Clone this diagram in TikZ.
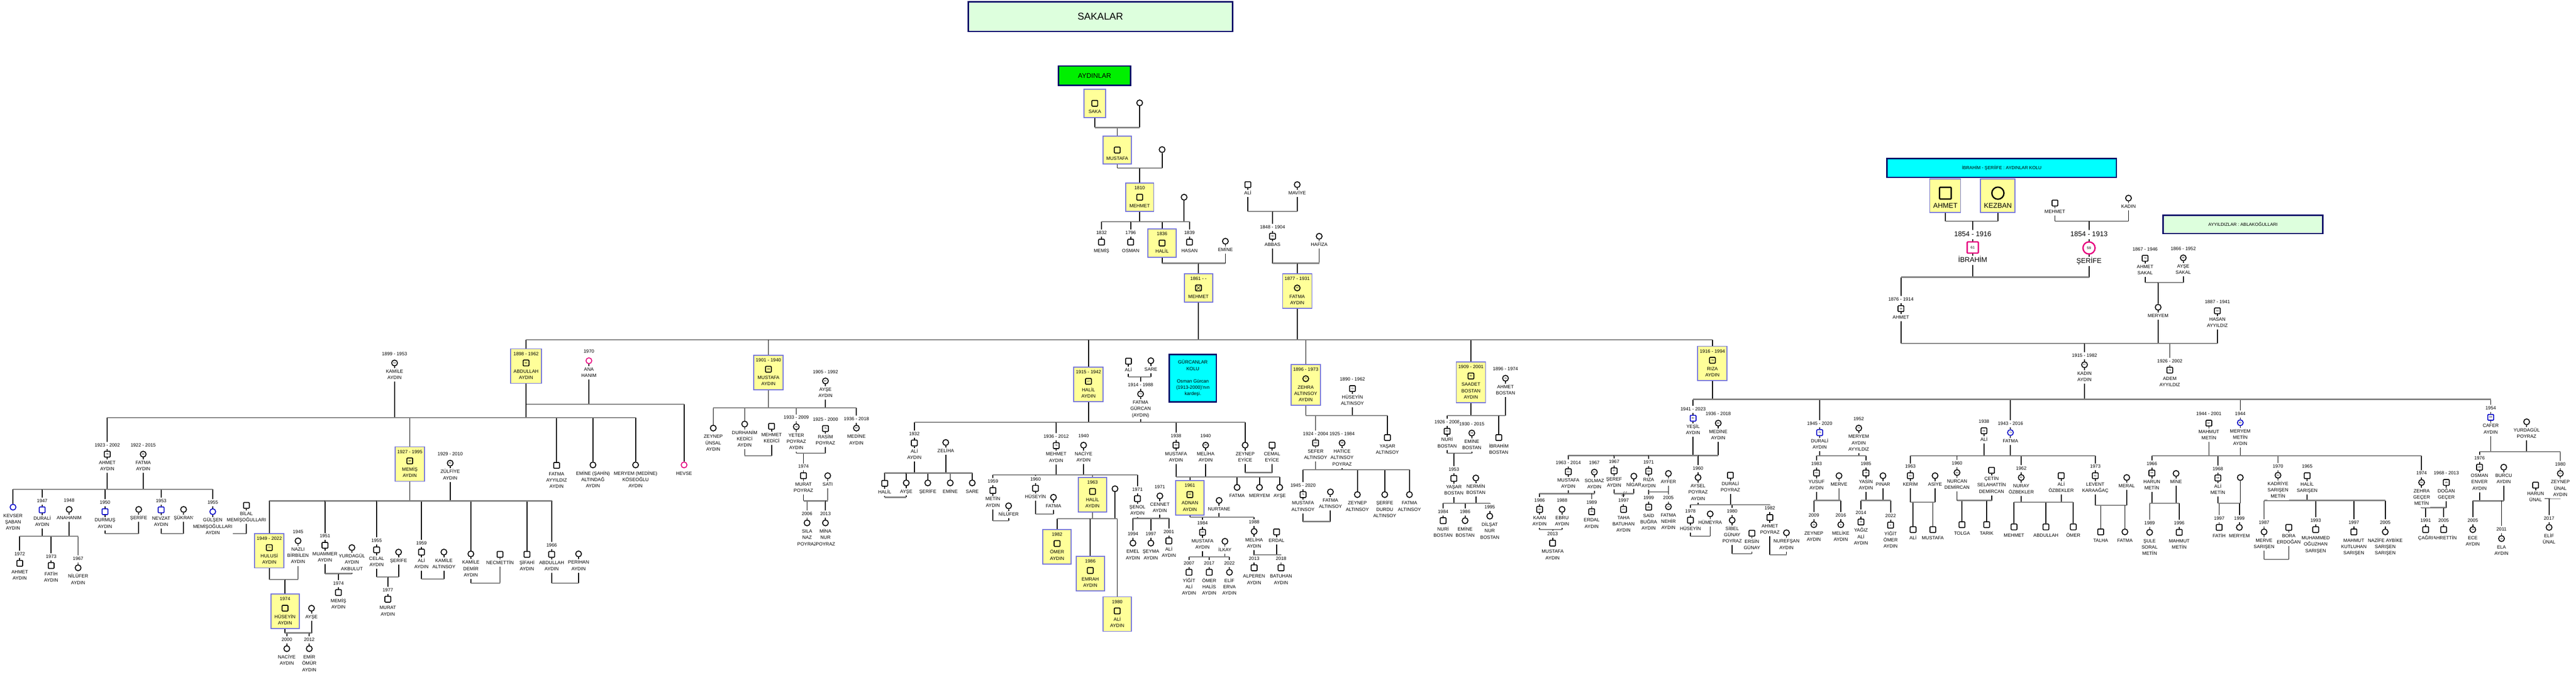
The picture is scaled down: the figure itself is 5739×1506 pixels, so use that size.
\documentclass[tikz,border=0pt]{standalone}
\usepackage{fontspec}
\setmainfont{Liberation Sans}
\usetikzlibrary{positioning,fit}

\definecolor{bargrey}{HTML}{808080}
\definecolor{hlyellow}{HTML}{FFFF99}
\definecolor{hlblue}{HTML}{7373DE}
\definecolor{symblue}{HTML}{0000C8}
\definecolor{sympink}{HTML}{E6007E}
\definecolor{boxnavy}{HTML}{000066}
\definecolor{titlegreen}{HTML}{DDFFDD}
\definecolor{aydgreen}{HTML}{00F000}
\definecolor{boxcyan}{HTML}{00FFFF}

\pgfdeclarelayer{edges}
\pgfdeclarelayer{boxes}
\pgfsetlayers{edges,boxes,main}

\newcommand\lblfont{\fontsize{10.5}{14}\selectfont}
\newcommand\agefont{\fontsize{5}{6}\selectfont}
\newcommand\bigfont{\fontsize{15.5}{19}\selectfont}

\newcommand\prsn[8][]{%
  \node[#3] (#2) at (#4,#5) {#6};
  \ifx\relax#7\relax
    \node[yr,#1,fill=none,above=4pt of #2] (#2-d) {\strut};
  \else
    \node[yr,#1,above=4pt of #2] (#2-d) {\strut#7};
  \fi
  \ifx\relax#8\relax
    \node[nm,#1,fill=none,below=4pt of #2] (#2-n) {\strut};
  \else
    \node[nm,#1,below=4pt of #2] (#2-n) {\strut#8\strut};
  \fi}

\newcommand\hilite[2][]{%
  \begin{pgfonlayer}{boxes}
    \node[hlbox,#1,fit=(#2-d)(#2)(#2-n)] (#2-box) {};
  \end{pgfonlayer}}

\newcommand\famline[4]{%
  \coordinate (#1) at (#2,#3);
  \begin{pgfonlayer}{edges}
    \foreach \p in {#4}{%
      \draw[kin] (\p) -- (\p |- #1);
      \draw[bar] (#1) -- (\p |- #1);}
  \end{pgfonlayer}}

\begin{document}
\begin{tikzpicture}[x=1pt,y=-1pt,
    m/.style={draw,line width=2pt,fill=white,minimum size=13pt,inner sep=0pt,rounded corners=1.5pt,font=\agefont},
    f/.style={draw,circle,line width=2pt,fill=white,minimum size=13pt,inner sep=0pt,font=\agefont},
    mb/.style={m,draw=symblue},
    fb/.style={f,draw=symblue},
    fp/.style={f,draw=sympink},
    mx/.style={m,path picture={\draw[line width=0.8pt]
        (path picture bounding box.north west) -- (path picture bounding box.south east)
        (path picture bounding box.north east) -- (path picture bounding box.south west);}},
    mB/.style={m,minimum size=26pt,line width=3pt},
    fB/.style={f,minimum size=27pt,line width=3pt},
    mP/.style={m,draw=sympink,minimum size=25pt,line width=3pt,font=\fontsize{8}{9}\selectfont},
    fP/.style={f,draw=sympink,minimum size=27pt,line width=3pt,font=\fontsize{8}{9}\selectfont},
    hs/.style={fill=hlyellow},
    yr/.style={fill=white,inner sep=1pt,font=\lblfont},
    nm/.style={yr,align=center},
    big/.style={font=\bigfont},
    hlt/.style={fill=none},
    kin/.style={line width=2pt},
    bar/.style={draw=bargrey,line width=2.5pt},
    hlbox/.style={draw=hlblue,fill=hlyellow,line width=2pt,inner sep=3.5pt,minimum width=63pt},
    titlebox/.style={draw=boxnavy,line width=3pt,align=center,inner sep=2pt}]

  \begin{pgfonlayer}{edges}
    \fill[white] (0,0) rectangle (5739,1506);
  \end{pgfonlayer}
  \useasboundingbox (0,0) rectangle (5739,1506);

  \node[titlebox,fill=titlegreen,minimum width=589pt,minimum height=66pt,font=\fontsize{22}{26}\selectfont] (sakalar) at (2451.5,37) {SAKALAR};
  \node[titlebox,fill=aydgreen,minimum width=161pt,minimum height=43pt,font=\fontsize{15}{18}\selectfont] (aydinlar) at (2438.5,168.5) {AYDINLAR};
  \node[titlebox,fill=boxcyan,minimum width=511pt,minimum height=42pt,font=\fontsize{10}{12}\selectfont] (aydinkolu) at (4459.5,374) {İBRAHİM - ŞERİİFE : AYDINLAR KOLU};
  \node[titlebox,fill=titlegreen,minimum width=356pt,minimum height=41pt,font=\fontsize{10}{12}\selectfont] (ayyildizlar) at (4997,499.5) {AYYILDIZLAR : ABLAKOĞULLARI};
  \node[titlebox,fill=boxcyan,minimum width=105pt,minimum height=106pt,font=\lblfont] (gurcanlar) at (2657.5,842) {GÜRCANLAR\\KOLU\\[14pt]Osman Gürcan\\(1913-2000)'nın\\kardeşi.};

  \prsn[hlt]{saka}{m,hs}{2439}{230}{}{}{SAKA}
  \prsn{sakaW}{f}{2539}{229}{}{}{}
  \prsn[hlt]{mustafa0}{m,hs}{2489}{334}{}{}{MUSTAFA}
  \prsn{mustafa0W}{f}{2589}{333}{}{}{}
  \prsn[hlt]{mehmet0}{m,hs}{2539}{439}{}{1810}{MEHMET}
  \prsn{mehmet0W}{f}{2638}{439}{}{}{}
  \prsn{memis0}{m}{2454}{539}{}{1832}{MEMİŞ}
  \prsn{osman0}{m}{2519}{539}{}{1796}{OSMAN}
  \prsn[hlt]{halil0}{m,hs}{2589}{541}{}{1836}{HALİL}
  \prsn{hasan0}{m}{2650}{539}{}{1839}{HASAN}
  \prsn{emine0}{f}{2730}{537}{}{}{EMİNE}
  \prsn[hlt]{mehmet1}{mx,hs}{2670}{641}{}{1861 - -}{MEHMET}
  \prsn{ali0}{m}{2780}{411}{}{}{ALİ}
  \prsn{maviye}{f}{2890}{411}{}{}{MAVİYE}
  \prsn{abbas}{m}{2835}{526}{56}{1848 - 1904}{ABBAS}
  \prsn{hafiza}{f}{2939}{526}{}{}{HAFİZA}
  \prsn[hlt]{fatma0}{f,hs}{2890}{641}{53}{1877 - 1931}{FATMA\\AYDIN}

  \famline{c1}{2439}{284}{saka,sakaW,mustafa0}
  \famline{c2}{2489}{374}{mustafa0,mustafa0W,mehmet0}
  \famline{c3}{2539}{494}{mehmet0,mehmet0W,memis0,osman0,halil0,hasan0}
  \famline{c4}{2589}{586}{halil0,emine0,mehmet1}
  \famline{c5}{2780}{471}{ali0,maviye,abbas}
  \famline{c6}{2835}{586}{abbas,hafiza,fatma0}

  \prsn[hlt]{abdullah1}{m,hs}{1172}{808}{64}{1898 - 1962}{ABDULLAH\\AYDIN}
  \prsn{kamile1}{f}{879}{808}{54}{1899 - 1953}{KAMİLE\\AYDIN}
  \prsn{anahanim1}{fp}{1312}{803}{}{1970}{ANA\\HANIM}
  \prsn{hevse}{fp}{1524}{1035}{}{}{HEVSE}
  \prsn{ahmet2}{m}{239}{1011}{79}{1923 - 2002}{AHMET\\AYDIN}
  \prsn{fatma2w}{f}{319}{1011}{93}{1922 - 2015}{FATMA\\AYDIN}
  \prsn[hlt]{memis2}{m,hs}{913}{1026}{68}{1927 - 1995}{MEMİŞ\\AYDIN}
  \prsn{zulfiye}{f}{1003}{1031}{81}{1929 - 2010}{ZÜLFİYE\\AYDIN}
  \prsn{fatma2}{m}{1240}{1036}{}{}{FATMA\\AYYILDIZ\\AYDIN}
  \prsn{emine2}{f}{1321}{1035}{}{}{EMİNE (ŞAHİN)\\ALTINDAĞ\\AYDIN}
  \prsn{meryem2}{f}{1416}{1035}{}{}{MERYEM (MEDİNE)\\KÖSEOĞLU\\AYDIN}

  \famline{c8}{1172}{900}{abdullah1,anahanim1,hevse}
  \famline{c9}{1172}{930}{abdullah1,kamile1,ahmet2,memis2,fatma2,emine2,meryem2}

  \prsn{kevser}{fb}{29}{1129}{}{}{KEVSER\\ŞABAN\\AYDIN}
  \prsn{durali3}{mb}{94}{1135}{}{1947}{DURALİ\\AYDIN}
  \prsn{anahanim3}{f}{154}{1134}{}{1948}{ANAHANIM}
  \prsn{ahmet4}{m}{44}{1254}{}{1972}{AHMET\\AYDIN}
  \prsn{fatih4}{m}{114}{1259}{}{1973}{FATİH\\AYDIN}
  \prsn{nilufer4}{f}{174}{1264}{}{1967}{NİLÜFER\\AYDIN}
  \prsn{durmus3}{mb}{234}{1139}{}{1950}{DURMUŞ\\AYDIN}
  \prsn{serife3}{f}{309}{1134}{}{}{ŞERİFE}
  \prsn{nevzat3}{mb}{359}{1135}{}{1953}{NEVZAT\\AYDIN}
  \prsn{sukran3}{f}{409}{1134}{}{}{ŞÜKRAN}
  \prsn{gulsen3}{fb}{474}{1139}{}{1955}{GÜLŞEN\\MEMİŞOĞULLARI\\AYDIN}
  \prsn{bilal3}{m}{549}{1125}{}{}{BİLAL\\MEMİŞOĞULLARI}

  \famline{c10}{239}{1089}{ahmet2,fatma2w,kevser,durali3,durmus3,nevzat3,gulsen3}
  \famline{c11}{94}{1194}{durali3,anahanim3,ahmet4,fatih4,nilufer4}
  \famline{c12}{234}{1188}{durmus3,serife3}
  \famline{c13}{359}{1188}{nevzat3,sukran3}
  \famline{c14}{549}{1188}{gulsen3,bilal3}

  \prsn[hlt]{hulusi}{m,hs}{600}{1219}{73}{1949 - 2022}{HULUSİ\\AYDIN}
  \prsn{nazli}{f}{664}{1204}{}{1945}{NAZLI\\BİRBİLEN\\AYDIN}
  \prsn[hlt]{huseyin6}{m,hs}{635}{1354}{}{1974}{HÜSEYİN\\AYDIN}
  \prsn{ayse6}{f}{694}{1354}{}{}{AYŞE}
  \prsn{naciye7}{f}{639}{1444}{}{2000}{NACİYE\\AYDIN}
  \prsn{emir7}{f}{689}{1444}{}{2012}{EMİR\\ÖMÜR\\AYDIN}
  \prsn{muammer}{m}{724}{1214}{}{1951}{MUAMMER\\AYDIN}
  \prsn{yurdagul5}{f}{784}{1219}{}{}{YURDAGÜL\\AYDIN\\AKBULUT}
  \prsn{memis6}{m}{754}{1319}{}{1974}{MEMİŞ\\AYDIN}
  \prsn{celal}{m}{839}{1224}{}{1955}{CELAL\\AYDIN}
  \prsn{serife5}{f}{888}{1229}{}{}{ŞERİFE}
  \prsn{murat6}{m}{864}{1334}{}{1977}{MURAT\\AYDIN}
  \prsn{ali5}{m}{939}{1229}{}{1959}{ALİ\\AYDIN}
  \prsn{kamile5a}{f}{989}{1229}{}{}{KAMİLE\\ALTINSOY}
  \prsn{kamile5}{f}{1049}{1233}{}{}{KAMİLE\\DEMİR\\AYDIN}
  \prsn{necmettin}{m}{1114}{1234}{}{}{NECMETTİN}
  \prsn{sifahi}{m}{1174}{1234}{}{}{ŞİFAHİ\\AYDIN}
  \prsn{abdullah5}{m}{1229}{1234}{}{1966}{ABDULLAH\\AYDIN}
  \prsn{perihan}{f}{1289}{1233}{}{}{PERİHAN\\AYDIN}

  \famline{c15}{913}{1115}{memis2,zulfiye,hulusi,muammer,celal,ali5,kamile5,sifahi,abdullah5}
  \famline{c16}{600}{1290}{hulusi,nazli,huseyin6}
  \famline{c17}{635}{1409}{huseyin6,ayse6,naciye7,emir7}
  \famline{c18}{724}{1277}{muammer,yurdagul5,memis6}
  \famline{c19}{839}{1284}{celal,serife5,murat6}
  \famline{c20}{939}{1289}{ali5,kamile5a}
  \famline{c21}{1049}{1298}{kamile5,necmettin}
  \famline{c22}{1229}{1298}{abdullah5,perihan}

  \prsn[hlt]{mustafa1}{m,hs}{1712}{822}{39}{1901 - 1940}{MUSTAFA\\AYDIN}
  \prsn{ayse1}{f}{1839}{848}{87}{1905 - 1992}{AYŞE\\AYDIN}
  \prsn{zeynep2}{f}{1589}{953}{}{}{ZEYNEP\\ÜNSAL\\AYDIN}
  \prsn{durhanim}{f}{1659}{944}{}{}{DURHANİM\\KEDİCİ\\AYDIN}
  \prsn{mehmetk}{m}{1719}{949}{}{}{MEHMET\\KEDİCİ}
  \prsn{yeter}{f}{1774}{950}{76}{1933 - 2009}{YETER\\POYRAZ\\AYDIN}
  \prsn{rasim}{m}{1839}{954}{75}{1925 - 2000}{RASİM\\POYRAZ}
  \prsn{medine2}{f}{1908}{953}{82}{1936 - 2018}{MEDİNE\\AYDIN}
  \prsn{murat3}{m}{1790}{1059}{}{1974}{MURAT\\POYRAZ}
  \prsn{sati}{f}{1844}{1059}{}{}{SATI}
  \prsn{sila}{f}{1798}{1164}{}{2006}{SILA\\NAZ\\POYRAZ}
  \prsn{mina}{f}{1839}{1164}{}{2013}{MİNA\\NUR\\POYRAZ}

  \famline{c23}{1712}{908}{mustafa1,ayse1,zeynep2,durhanim,yeter,medine2}
  \famline{c24}{1659}{1015}{durhanim,mehmetk}
  \famline{c25}{1774}{1009}{yeter,rasim,murat3}
  \famline{c26}{1790}{1115}{murat3,sati,sila,mina}

  \prsn[hlt]{halil1}{m,hs}{2425}{849}{27}{1915 - 1942}{HALİL\\AYDIN}
  \prsn{aliG}{m}{2514}{804}{}{}{ALİ}
  \prsn{sareG}{f}{2564}{803}{}{}{SARE}
  \prsn{fatmaG}{f}{2541}{877}{74}{1914 - 1988}{FATMA\\GÜRCAN\\(AYDIN)}

  \famline{c27}{2514}{839}{aliG,sareG,fatmaG}

  \prsn{aliH}{m}{2037}{986}{}{1932}{ALİ\\AYDIN}
  \prsn{zeliha}{f}{2107}{985}{}{}{ZELİHA}
  \prsn{halilZ}{m}{1971}{1076}{}{}{HALİL}
  \prsn{ayseZ}{f}{2019}{1075}{}{}{AYŞE}
  \prsn{serifeZ}{f}{2067}{1075}{}{}{ŞERİFE}
  \prsn{emineZ}{f}{2117}{1075}{}{}{EMİNE}
  \prsn{sareZ}{f}{2166}{1075}{}{}{SARE}
  \prsn{mehmetH}{m}{2353}{992}{78}{1936 - 2012}{MEHMET\\AYDIN}
  \prsn{naciyeH}{f}{2414}{991}{}{1940}{NACİYE\\AYDIN}
  \prsn{metin}{m}{2212}{1092}{}{1959}{METİN\\AYDIN}
  \prsn{niluferH}{f}{2247}{1126}{}{}{NİLÜFER}
  \prsn{huseyinH}{m}{2307}{1087}{}{1960}{HÜSEYİN}
  \prsn{fatmaH}{f}{2347}{1107}{}{}{FATMA}
  \prsn[hlt]{halilH}{m,hs}{2434}{1094}{}{1963}{HALİL\\AYDIN}
  \prsn{halilHw}{f}{2484}{1088}{}{}{}
  \prsn[hlt]{omer}{m,hs}{2355}{1210}{}{1982}{ÖMER\\AYDIN}
  \prsn[hlt]{emrah}{m,hs}{2429}{1270}{}{1986}{EMRAH\\AYDIN}
  \prsn[hlt]{aliHH}{m,hs}{2489}{1360}{}{1980}{ALİ\\AYDIN}
  \prsn{senol}{m}{2534}{1110}{}{1971}{ŞENOL\\AYDIN}
  \prsn{cennet}{f}{2584}{1104}{}{1971}{CENNET\\AYDIN}
  \prsn{emel}{f}{2524}{1209}{}{1994}{EMEL\\AYDIN}
  \prsn{seyma}{f}{2564}{1209}{}{1997}{ŞEYMA\\AYDIN}
  \prsn{aliS}{m}{2604}{1204}{}{2001}{ALİ\\AYDIN}
  \prsn{mustafaH}{m}{2620}{991}{86}{1938}{MUSTAFA\\AYDIN}
  \prsn{melihaH}{f}{2686}{991}{84}{1940}{MELİHA\\AYDIN}
  \prsn[hlt]{adnan}{m,hs}{2651}{1101}{63}{1961}{ADNAN\\AYDIN}
  \prsn{nurtane}{f}{2716}{1114}{}{}{NURTANE}
  \prsn{mustafaA}{m}{2679}{1185}{40}{1984}{MUSTAFA\\AYDIN}
  \prsn{ilkay}{f}{2729}{1205}{}{}{İLKAY}
  \prsn{yigit}{m}{2649}{1274}{}{2007}{YİĞİT\\ALİ\\AYDIN}
  \prsn{omerH}{m}{2694}{1274}{}{2017}{ÖMER\\HALİS\\AYDIN}
  \prsn{elif}{f}{2739}{1274}{}{2022}{ELİF\\ERVA\\AYDIN}
  \prsn{melihaA}{f}{2794}{1183}{}{1988}{MELİHA\\AYDIN}
  \prsn{erdal}{m}{2844}{1184}{}{}{ERDAL}
  \prsn{alperen}{m}{2794}{1264}{}{2013}{ALPEREN\\AYDIN}
  \prsn{batuhan}{m}{2854}{1264}{}{2018}{BATUHAN\\AYDIN}
  \prsn{fatmaM}{f}{2756}{1085}{}{}{FATMA}
  \prsn{meryemM}{f}{2806}{1085}{}{}{MERYEM}
  \prsn{ayseM}{f}{2851}{1085}{}{}{AYŞE}
  \prsn{zeynepE}{f}{2774}{991}{}{}{ZEYNEP\\EYİCE}
  \prsn{cemal}{m}{2834}{991}{}{}{CEMAL\\EYİCE}

  \famline{c28}{2425}{940}{halil1,fatmaG,aliH,mehmetH,mustafaH,zeynepE}
  \famline{c29}{2037}{1053}{aliH,zeliha,halilZ,ayseZ,serifeZ,emineZ,sareZ}
  \famline{c30}{1971}{1107}{halilZ,ayseZ}
  \famline{c31}{2353}{1057}{mehmetH,naciyeH,metin,huseyinH,halilH,senol}
  \famline{c32}{2212}{1159}{metin,niluferH}
  \famline{c33}{2307}{1144}{huseyinH,fatmaH}
  \famline{c34}{2434}{1155}{halilH,halilHw,omer,emrah,aliHH}
  \famline{c35}{2534}{1154}{senol,cennet,emel,seyma,aliS}
  \famline{c36}{2620}{1062}{mustafaH,melihaH,adnan,fatmaM,meryemM,ayseM}
  \famline{c37}{2651}{1151}{adnan,nurtane,mustafaA,melihaA}
  \famline{c38}{2679}{1240}{mustafaA,ilkay,yigit,omerH,elif}
  \famline{c39}{2794}{1235}{melihaA,erdal,alperen,batuhan}
  \famline{c40}{2774}{1052}{zeynepE,cemal}

  \prsn[hlt]{zehra1}{f,hs}{2909}{843}{77}{1896 - 1973}{ZEHRA\\ALTINSOY\\AYDIN}
  \prsn{huseyinA}{m}{3013}{865}{72}{1890 - 1962}{HÜSEYİN\\ALTINSOY}
  \prsn{sefer}{m}{2931}{986}{80}{1924 - 2004}{SEFER\\ALTINSOY}
  \prsn{hatice}{f}{2990}{986}{59}{1925 - 1984}{HATİCE\\ALTINSOY\\POYRAZ}
  \prsn{yasarA}{m}{3091}{974}{}{}{YAŞAR\\ALTINSOY}
  \prsn{mustafaS}{m}{2903}{1101}{75}{1945 - 2020}{MUSTAFA\\ALTINSOY}
  \prsn{fatmaSw}{f}{2964}{1095}{}{}{FATMA\\ALTINSOY}
  \prsn{zeynepS}{f}{3024}{1101}{}{}{ZEYNEP\\ALTINSOY}
  \prsn{serifeS}{f}{3085}{1101}{}{}{ŞERİFE\\DURDU\\ALTINSOY}
  \prsn{fatmaS}{f}{3140}{1101}{}{}{FATMA\\ALTINSOY}

  \famline{c41}{2909}{925}{zehra1,huseyinA,sefer,yasarA}
  \famline{c42}{2931}{1046}{sefer,hatice,mustafaS,zeynepS,serifeS,fatmaS}
  \famline{c43}{2903}{1161}{mustafaS,fatmaSw}

  \prsn[hlt]{saadet1}{m,hs}{3277}{837}{92}{1909 - 2001}{SAADET\\BOSTAN\\AYDIN}
  \prsn{ahmetB}{f}{3354}{842}{78}{1896 - 1974}{AHMET\\BOSTAN}
  \prsn{nuriB}{m}{3224}{960}{82}{1926 - 2008}{NURİ\\BOSTAN}
  \prsn{emineB}{f}{3279}{964}{85}{1930 - 2015}{EMİNE\\BOSTAN}
  \prsn{ibrahimB}{m}{3339}{974}{}{}{İBRAHİM\\BOSTAN}
  \prsn{yasarB}{m}{3239}{1065}{}{1953}{YAŞAR\\BOSTAN}
  \prsn{nermin}{f}{3288}{1064}{}{}{NERMİN\\BOSTAN}
  \prsn{nuriB2}{m}{3215}{1159}{}{1984}{NURİ\\BOSTAN}
  \prsn{emineB2}{f}{3264}{1159}{}{1986}{EMİNE\\BOSTAN}
  \prsn{dilsat}{f}{3319}{1149}{}{1995}{DİLŞAT\\NUR\\BOSTAN}

  \famline{c44}{3277}{925}{saadet1,ahmetB,nuriB,ibrahimB}
  \famline{c45}{3224}{1009}{nuriB,emineB,yasarB}
  \famline{c46}{3239}{1120}{yasarB,nermin,nuriB2,emineB2,dilsat}

  \prsn[hlt]{riza1}{m,hs}{3815}{802}{78}{1916 - 1994}{RIZA\\AYDIN}
  \prsn{yesil}{mb}{3772}{931}{82}{1941 - 2023}{YEŞİL\\AYDIN}
  \prsn{medine8}{f}{3828}{942}{82}{1936 - 2018}{MEDİNE\\AYDIN}
  \prsn{mustafaY}{m}{3494}{1050}{51}{1963 - 2014}{MUSTAFA\\AYDIN}
  \prsn{solmaz}{f}{3552}{1051}{57}{1967}{SOLMAZ\\AYDIN}
  \prsn{kaan}{m}{3430}{1134}{38}{1986}{KAAN\\AYDIN}
  \prsn{ebru}{f}{3480}{1134}{}{1988}{EBRU\\AYDIN}
  \prsn{mustafaK}{m}{3459}{1209}{}{2013}{MUSTAFA\\AYDIN}
  \prsn{erdalY}{m}{3546}{1139}{35}{1989}{ERDAL\\AYDIN}
  \prsn{seref}{m}{3596}{1048}{57}{1967}{ŞEREF\\AYDIN}
  \prsn{nigar}{f}{3640}{1060}{}{}{NİGAR}
  \prsn{taha}{m}{3617}{1134}{27}{1997}{TAHA\\BATUHAN\\AYDIN}
  \prsn{rizaY}{m}{3673}{1049}{53}{1971}{RIZA\\AYDIN}
  \prsn{ayfer}{f}{3717}{1054}{}{}{AYFER}
  \prsn{said}{m}{3673}{1129}{25}{1999}{SAİD\\BUĞRA\\AYDIN}
  \prsn{fatmaN}{f}{3717}{1128}{19}{2005}{FATMA\\NEHİR\\AYDIN}
  \prsn{aysel}{f}{3783}{1063}{}{1960}{AYSEL\\POYRAZ\\AYDIN}
  \prsn{duraliP}{m}{3855}{1058}{}{}{DURALİ\\POYRAZ}
  \prsn{huseyinP}{m}{3766}{1158}{}{1978}{HÜSEYİN}
  \prsn{humeyra}{f}{3810}{1144}{}{}{HÜMEYRA}
  \prsn{sibel}{f}{3859}{1158}{}{1980}{SİBEL\\GÜNAY\\POYRAZ}
  \prsn{ersin}{m}{3903}{1187}{}{}{ERSİN\\GÜNAY}
  \prsn{ahmetP}{m}{3943}{1152}{}{1982}{AHMET\\POYRAZ}
  \prsn{nurefsan}{f}{3980}{1186}{}{}{NUREFŞAN\\AYDIN}

  \famline{c48}{3772}{1014}{yesil,medine8,mustafaY,seref,rizaY,aysel}
  \famline{c49}{3494}{1099}{mustafaY,solmaz,kaan,erdalY}
  \famline{c50}{3430}{1179}{kaan,ebru,mustafaK}
  \famline{c51}{3596}{1099}{seref,nigar,taha}
  \famline{c52}{3673}{1095}{rizaY,ayfer,said,fatmaN}
  \famline{c53}{3783}{1124}{aysel,duraliP,huseyinP,sibel,ahmetP}
  \famline{c54}{3766}{1194}{huseyinP,humeyra}
  \famline{c55}{3859}{1233}{sibel,ersin}
  \famline{c56}{3943}{1235}{ahmetP,nurefsan}
  \coordinate (divorce) at (3619,1099);
  \begin{pgfonlayer}{edges}
    \draw[bar,line width=1.5pt] ([shift={(-6pt,-5pt)}]divorce) -- ([shift={(0pt,5pt)}]divorce)
                                ([shift={(-1pt,-5pt)}]divorce) -- ([shift={(5pt,5pt)}]divorce);
  \end{pgfonlayer}

  \prsn{durali8}{mb}{4054}{963}{75}{1945 - 2020}{DURALİ\\AYDIN}
  \prsn{meryem8w}{f}{4141}{953}{72}{1952}{MERYEM\\AYDIN\\AYYILDIZ}
  \prsn{yusuf}{m}{4047}{1053}{41}{1983}{YUSUF\\AYDIN}
  \prsn{merve}{f}{4097}{1059}{}{}{MERVE}
  \prsn{zeynepY}{f}{4041}{1168}{15}{2009}{ZEYNEP\\AYDIN}
  \prsn{melike}{f}{4101}{1168}{8}{2016}{MELİKE\\AYDIN}
  \prsn{yasin}{m}{4157}{1053}{39}{1985}{YASİN\\AYDIN}
  \prsn{pinar}{f}{4195}{1059}{}{}{PINAR}
  \prsn{yagiz}{m}{4146}{1162}{10}{2014}{YAĞIZ\\ALİ\\AYDIN}
  \prsn{yigitO}{m}{4212}{1169}{2}{2022}{YİĞİT\\ÖMER\\AYDIN}

  \famline{c57}{4054}{1015}{durali8,meryem8w,yusuf,yasin}
  \famline{c58}{4047}{1114}{yusuf,merve,zeynepY,melike}
  \famline{c59}{4157}{1114}{yasin,pinar,yagiz,yigitO}

  \prsn{ali8}{m}{4420}{959}{86}{1938}{ALİ}
  \prsn{fatma8}{fb}{4479}{963}{73}{1943 - 2016}{FATMA}
  \prsn{kerim}{m}{4256}{1059}{61}{1963}{KERİM}
  \prsn{asiye}{f}{4311}{1059}{}{}{ASİYE}
  \prsn{aliK}{m}{4262}{1179}{}{}{ALİ}
  \prsn{mustafaKe}{m}{4306}{1179}{}{}{MUSTAFA}
  \prsn{nurcan}{f}{4360}{1052}{64}{1960}{NURCAN\\DEMİRCAN}
  \prsn{cetin}{m}{4437}{1047}{}{}{ÇETİN\\SELAHATTİN\\DEMİRCAN}
  \prsn{tolga}{m}{4371}{1168}{}{}{TOLGA}
  \prsn{tarik}{m}{4426}{1168}{}{}{TARIK}
  \prsn{nuray}{f}{4503}{1063}{62}{1962}{NURAY\\ÖZBEKLER}
  \prsn{aliO}{m}{4592}{1059}{}{}{ALİ\\ÖZBEKLER}
  \prsn{mehmetO}{m}{4487}{1173}{}{}{MEHMET}
  \prsn{abdullahO}{m}{4558}{1173}{}{}{ABDULLAH}
  \prsn{omerO}{m}{4619}{1173}{}{}{ÖMER}
  \prsn{levent}{m}{4668}{1059}{51}{1973}{LEVENT\\KARAAĞAÇ}
  \prsn{meral}{f}{4738}{1063}{}{}{MERAL}
  \prsn{talha}{m}{4680}{1184}{}{}{TALHA}
  \prsn{fatmaL}{f}{4734}{1184}{}{}{FATMA}

  \famline{c60}{4420}{1015}{ali8,fatma8,kerim,nurcan,nuray,levent}
  \famline{c61}{4256}{1118}{kerim,asiye,aliK,mustafaKe}
  \famline{c62}{4360}{1114}{nurcan,cetin,tolga,tarik}
  \famline{c63}{4503}{1118}{nuray,aliO,mehmetO,abdullahO,omerO}
  \famline{c64}{4668}{1125}{levent,meral,talha,fatmaL}

  \prsn{mahmut8}{m}{4921}{942}{57}{1944 - 2001}{MAHMUT\\METİN}
  \prsn{meryem8}{fb}{4991}{941}{80}{1944}{MERYEM\\METİN\\AYDIN}
  \prsn{harun}{m}{4794}{1053}{58}{1966}{HARUN\\METİN}
  \prsn{mine}{f}{4848}{1054}{}{}{MİNE}
  \prsn{sule}{f}{4789}{1185}{}{1989}{ŞULE\\SORAL\\METİN}
  \prsn{mahmutM}{m}{4855}{1185}{}{1996}{MAHMUT\\METİN}
  \prsn{aliM}{m}{4941}{1064}{58}{1968}{ALİ\\METİN}
  \prsn{aliMw}{f}{4991}{1063}{}{}{}
  \prsn{fatih9}{m}{4944}{1174}{}{1997}{FATİH}
  \prsn{meryem9}{f}{4989}{1174}{}{1999}{MERYEM}
  \prsn{kadriye}{f}{5075}{1058}{54}{1970}{KADRİYE\\SARIŞEN\\METİN}
  \prsn{halilS}{m}{5140}{1059}{}{1965}{HALİL\\SARIŞEN}
  \prsn{merve9}{f}{5044}{1184}{}{1987}{MERVE\\SARIŞEN}
  \prsn{bora}{m}{5099}{1174}{}{}{BORA\\ERDOĞAN}
  \prsn{muhammed}{m}{5159}{1179}{}{1993}{MUHAMMED\\OĞUZHAN\\SARIŞEN}
  \prsn{kutluhan}{m}{5244}{1184}{}{1997}{MAHMUT\\KUTLUHAN\\SARIŞEN}
  \prsn{nazife}{f}{5314}{1184}{}{2005}{NAZİFE AYBİKE\\SARIŞEN\\SARIŞEN}
  \prsn{zehraM}{f}{5395}{1074}{50}{1974}{ZEHRA\\GEÇER\\METİN}
  \prsn{dogan}{m}{5450}{1074}{45}{1968 - 2013}{DOĞAN\\GEÇER}
  \prsn{fahrettin}{m}{5444}{1179}{}{2005}{FAHRETTİN}
  \prsn{cagri}{m}{5404}{1179}{}{1991}{ÇAĞRI}

  \famline{c65}{4921}{1015}{mahmut8,meryem8,harun,aliM,kadriye,zehraM}
  \famline{c66}{4794}{1120}{harun,mine,sule,mahmutM}
  \famline{c67}{4941}{1120}{aliM,aliMw,fatih9,meryem9}
  \famline{c68}{5075}{1114}{kadriye,halilS,merve9,muhammed,kutluhan,nazife}
  \famline{c69}{5044}{1245}{merve9,bora}
  \famline{c70}{5395}{1130}{zehraM,dogan,cagri,fahrettin}

  \prsn{cafer}{mb}{5549}{929}{69}{1954}{CAFER\\AYDIN}
  \prsn{yurdagulP}{f}{5629}{939}{}{}{YURDAGÜL\\POYRAZ}
  \prsn{osman}{m}{5524}{1040}{48}{1976}{OSMAN\\ENVER\\AYDIN}
  \prsn{burcu}{f}{5578}{1040}{}{}{BURCU\\AYDIN}
  \prsn{ece}{f}{5509}{1179}{19}{2005}{ECE\\AYDIN}
  \prsn{ela}{f}{5573}{1199}{13}{2011}{ELA\\AYDIN}
  \prsn{zeynepU}{f}{5704}{1054}{44}{1980}{ZEYNEP\\ÜNAL\\AYDIN}
  \prsn{harunU}{m}{5649}{1080}{}{}{HARUN\\ÜNAL}
  \prsn{elifU}{f}{5679}{1174}{7}{2017}{ELİF\\ÜNAL}

  \famline{c71}{5549}{1005}{cafer,yurdagulP,osman,zeynepU}
  \famline{c72}{5524}{1115}{osman,burcu,ece,ela}
  \famline{c73}{5704}{1110}{zeynepU,harunU,elifU}

  \prsn[big,hlt]{ahmetT}{mB,hs}{4334}{430}{}{}{AHMET}
  \prsn[big,hlt]{kezban}{fB,hs}{4451}{430}{}{}{KEZBAN}
  \prsn[big]{ibrahim}{mP}{4395}{551}{61}{1854 - 1916}{İBRAHİM}
  \prsn{mehmetT}{m}{4578}{452}{}{}{MEHMET}
  \prsn{kadinT}{f}{4742}{441}{}{}{KADIN}
  \prsn[big]{serifeT}{fP}{4654}{552}{59}{1854 - 1913}{ŞERİFE}
  \prsn{ahmetI}{m}{4235}{687}{38}{1876 - 1914}{AHMET}
  \prsn{ahmetS}{m}{4779}{575}{79}{1867 - 1946}{AHMET\\SAKAL}
  \prsn{ayseS}{f}{4864}{574}{88}{1866 - 1952}{AYŞE\\SAKAL}
  \prsn{meryemT}{f}{4808}{684}{}{}{MERYEM}
  \prsn{hasanA}{m}{4940}{692}{54}{1887 - 1941}{HASAN\\AYYILDIZ}
  \prsn{kadinA}{f}{4644}{812}{67}{1915 - 1982}{KADIN\\AYDIN}
  \prsn{adem}{m}{4834}{824}{78}{1926 - 2002}{ADEM\\AYYILDIZ}

  \famline{c74}{4395}{492}{ahmetT,kezban,ibrahim}
  \famline{c75}{4654}{492}{mehmetT,kadinT,serifeT}
  \famline{c76}{4395}{617}{ibrahim,serifeT,ahmetI}
  \famline{c77}{4644}{764}{ahmetI,meryemT,hasanA,kadinA,adem}
  \famline{c78}{4810}{629}{ahmetS,ayseS,meryemT}
  \famline{c7}{2670}{756}{mehmet1,fatma0,abdullah1,mustafa1,halil1,zehra1,saadet1,riza1}
  \famline{c47}{3815}{889}{riza1,kadinA,yesil,durali8,fatma8,meryem8,cafer}

  \hilite[minimum width=48pt]{saka}
  \hilite{mustafa0}
  \hilite{mehmet0}
  \hilite{halil0}
  \hilite{mehmet1}
  \hilite{fatma0}
  \hilite[minimum width=69pt]{abdullah1}
  \hilite{mustafa1}
  \hilite{halil1}
  \hilite{zehra1}
  \hilite{saadet1}
  \hilite{riza1}
  \hilite{memis2}
  \hilite{hulusi}
  \hilite{huseyin6}
  \hilite{halilH}
  \hilite{omer}
  \hilite{emrah}
  \hilite{aliHH}
  \hilite{adnan}
  \begin{pgfonlayer}{boxes}
    \node[hlbox,minimum width=69pt,minimum height=75pt] (ahmetT-box) at (4333.5,435.5) {};
    \node[hlbox,minimum width=77pt,minimum height=75pt] (kezban-box) at (4450.5,435.5) {};
  \end{pgfonlayer}
\end{tikzpicture}
\end{document}
